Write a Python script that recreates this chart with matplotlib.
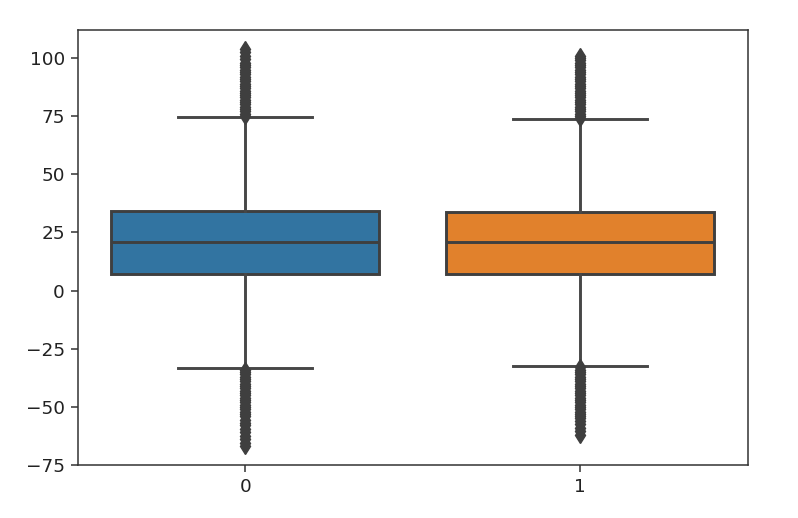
import numpy as np
import matplotlib.pyplot as plt

# group labels and box statistics
groups = ['0', '1']
colors = ['#3274a1', '#e1812c']
q1 = [7.3, 7.2]
med = [20.8, 20.9]
q3 = [34.3, 33.6]
whislo = [-33.5, -32.3]
whishi = [74.6, 73.8]

# outliers (dense columns of diamonds)
fliers_0 = [75, 76, 77, 78, 79, 80, 81, 82, 83, 84, 85, 86, 87, 88, 89, 90,
            91, 92, 93, 94, 95, 96, 97, 98, 99.5, 101, 102.5, 104,
            -34, -35, -36, -37, -38, -39, -40, -41, -42, -43, -44, -45, -46,
            -47, -48, -49, -50, -51, -52, -53, -54, -55.5, -57, -58, -59.5,
            -61, -62.5, -64, -65.5, -67]
fliers_1 = [74, 75, 76, 77, 78, 79, 80, 81, 82, 83, 84, 85, 86, 87, 88, 89,
            90, 91, 92, 93, 94, 95, 96, 97, 98, 99, 100, 101,
            -33, -34, -35, -36, -37, -38, -39, -40, -41, -42, -43, -44, -45,
            -46, -47, -48, -49, -50, -51, -52, -53, -54, -55, -56, -57.5,
            -59, -60.5, -62]
fliers = [fliers_0, fliers_1]

fig = plt.figure(figsize=(7.98, 5.18), dpi=100)
ax = fig.add_axes([0.0977, 0.1023, 0.8393, 0.8397])

stats = []
for i in range(len(groups)):
    stats.append(dict(q1=q1[i], med=med[i], q3=q3[i], whislo=whislo[i],
                      whishi=whishi[i], fliers=np.array(fliers[i]), label=groups[i]))

gray = '#3f3f3f'
lw = 2.1
bp = ax.bxp(stats, positions=range(len(groups)), widths=0.8, patch_artist=True,
            boxprops=dict(edgecolor=gray, linewidth=lw),
            medianprops=dict(color=gray, linewidth=lw),
            whiskerprops=dict(color='#474747', linewidth=lw),
            capprops=dict(color='#474747', linewidth=lw),
            flierprops=dict(marker='d', markerfacecolor=gray, markeredgecolor=gray,
                            markersize=8, markeredgewidth=1.0, linestyle='none'),
            capwidths=0.4)
for patch, c in zip(bp['boxes'], colors):
    patch.set_facecolor(c)

ax.set_xlim(-0.5, 1.5)
ax.set_ylim(-75, 112)
ax.set_yticks([-75, -50, -25, 0, 25, 50, 75, 100])
ax.set_xticks([0, 1])
ax.set_xticklabels(groups)
ax.tick_params(labelsize=13.3, length=4.7, width=1.1, pad=4.8, colors='#333333',
               labelcolor='#222222')
for sp in ax.spines.values():
    sp.set_linewidth(1.1)
    sp.set_color('#333333')

fig.savefig('out.png', dpi=100)
